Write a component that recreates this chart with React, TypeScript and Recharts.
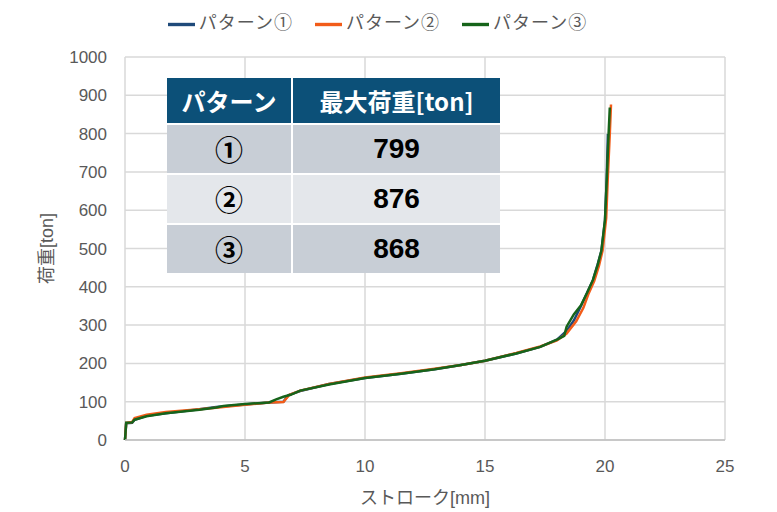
import { LineChart, Line, XAxis, YAxis, CartesianGrid, Legend } from "recharts";

// パターン①
const stroke1 = [0, 0.05, 0.3, 0.4, 0.9, 1.7, 3.1, 3.8, 5.0, 6.0, 6.6, 6.8, 7.3, 8.5, 10.0, 11.5, 12.9, 14.0, 15.0, 16.3, 17.3, 18.0, 18.4, 18.7, 19.0, 19.25, 19.5, 19.7, 19.85, 20.0, 20.07, 20.12];
const load1 = [0, 44, 45, 53, 63, 70, 80, 86, 93, 98, 100, 117, 128, 146, 162, 173, 185, 196, 207, 226, 243, 262, 285, 312, 350, 384, 418, 460, 494, 573, 678, 799];

// パターン②
const stroke2 = [0, 0.05, 0.3, 0.4, 0.9, 1.7, 3.1, 3.8, 5.0, 6.0, 6.6, 6.85, 7.3, 8.5, 10.0, 11.5, 12.9, 14.0, 15.0, 16.3, 17.3, 18.0, 18.4, 18.8, 19.1, 19.3, 19.55, 19.75, 19.9, 20.05, 20.12, 20.2, 20.25];
const load2 = [0, 45, 47, 57, 66, 73, 80, 84, 92, 98, 99, 118, 129, 146, 163, 174, 186, 196, 207, 227, 244, 260, 278, 310, 345, 380, 415, 455, 495, 580, 690, 800, 876];

// パターン③
const stroke3 = [0, 0.05, 0.3, 0.4, 0.9, 1.7, 3.1, 3.8, 4.1, 5.0, 6.0, 6.3, 6.6, 6.9, 7.3, 8.5, 10.0, 11.5, 12.9, 14.0, 15.0, 16.3, 17.3, 18.0, 18.3, 18.4, 18.7, 19.0, 19.25, 19.5, 19.7, 19.85, 20.0, 20.08, 20.15, 20.2];
const load3 = [0, 45, 46, 53, 62, 70, 79, 85, 89, 94, 98, 106, 113, 118, 129, 145, 162, 173, 185, 196, 207, 226, 243, 262, 272, 296, 328, 352, 384, 418, 458, 494, 575, 690, 800, 868];

const xTicks = [0, 5, 10, 15, 20, 25];
const yTicks = [0, 100, 200, 300, 400, 500, 600, 700, 800, 900, 1000];

// 表の中身
const tableHeader = ["パターン", "最大荷重[ton]"];
const tablePatterns = ["①", "②", "③"];
const tableMaxLoads = [799, 876, 868];

const toPoints = (xs: number[], ys: number[]) => xs.map((x, i) => ({ stroke: x, load: ys[i] }));

const series = [
  { name: "パターン①", color: "#1f4a7a", data: toPoints(stroke1, load1) },
  { name: "パターン②", color: "#f25c19", data: toPoints(stroke2, load2) },
  { name: "パターン③", color: "#16641a", data: toPoints(stroke3, load3) },
];

const font = "'Liberation Sans', 'Noto Sans CJK JP', sans-serif";
const jpFont = "'Noto Sans CJK JP', sans-serif";
const textColor = "#595959";

const rowColors = ["#c8ced6", "#e4e7eb", "#c8ced6"];

const cellStyle = (bg: string) => ({
  background: bg,
  color: "#000",
  display: "flex",
  alignItems: "center",
  justifyContent: "center",
});

export default function App() {
  return (
    <div style={{ position: "absolute", left: 0, top: 0, width: 777, height: 512, background: "#fff", fontFamily: font }}>
      <LineChart width={777} height={512} margin={{ top: 57, right: 52, bottom: 0, left: 0 }}>
        <CartesianGrid stroke="#d9d9d9" strokeWidth={1.5} />
        <XAxis
          type="number"
          dataKey="stroke"
          domain={[0, 25]}
          ticks={xTicks}
          height={72}
          tickSize={0}
          tickMargin={20}
          axisLine={{ stroke: "#bfbfbf", strokeWidth: 1.5 }}
          tick={{ fill: textColor, fontSize: 17 }}
          label={{ value: "ストローク[mm]", position: "insideBottom", offset: 8, fill: textColor, fontSize: 18 }}
        />
        <YAxis
          type="number"
          domain={[0, 1000]}
          ticks={yTicks}
          width={125}
          tickSize={0}
          tickMargin={18}
          axisLine={false}
          tick={{ fill: textColor, fontSize: 17 }}
          label={{ value: "荷重[ton]", angle: -90, position: "center", dx: -15.5, fill: textColor, fontSize: 18 }}
        />
        <Legend
          layout="horizontal"
          verticalAlign="middle"
          align="center"
          iconSize={27}
          wrapperStyle={{ top: 8, left: 0, width: 777 }}
          formatter={(value) => (
            <span style={{ color: textColor, fontSize: 18, fontFamily: jpFont, letterSpacing: 1, marginRight: 12 }}>{value}</span>
          )}
        />
        {series.map((s) => (
          <Line
            key={s.name}
            name={s.name}
            data={s.data}
            dataKey="load"
            type="linear"
            stroke={s.color}
            strokeWidth={2.5}
            dot={false}
            legendType="plainline"
            isAnimationActive={false}
          />
        ))}
      </LineChart>

      {/* 最大荷重の表 */}
      <div
        style={{
          position: "absolute",
          left: 167,
          top: 78,
          display: "grid",
          gridTemplateColumns: "124px 207px",
          gridTemplateRows: "45px 48px 48px 48px",
          gap: 2,
          background: "#fff",
          fontWeight: 700,
        }}
      >
        {tableHeader.map((h) => (
          <div key={h} style={{ ...cellStyle("#0c5078"), color: "#fff", fontSize: 24, fontFamily: jpFont }}>
            {h}
          </div>
        ))}
        {tablePatterns.map((p, i) => [
          <div key={p} style={{ ...cellStyle(rowColors[i]), fontSize: 28, fontFamily: jpFont }}>
            {p}
          </div>,
          <div key={p + "v"} style={{ ...cellStyle(rowColors[i]), fontSize: 28, fontFamily: "'Liberation Sans', sans-serif" }}>
            {tableMaxLoads[i]}
          </div>,
        ])}
      </div>
    </div>
  );
}
